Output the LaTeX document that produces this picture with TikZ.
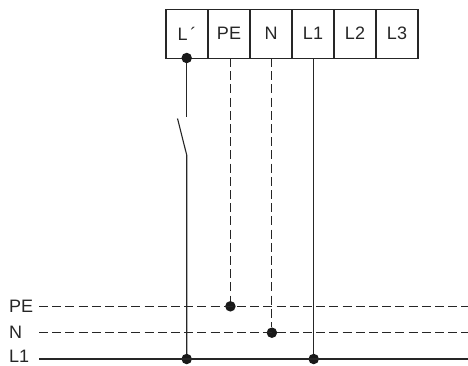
\documentclass[tikz,border=0pt]{standalone}
\usepackage{fontspec}
\setmainfont{Liberation Sans}
\usetikzlibrary{positioning}
\tikzset{
  terminal/.style={draw=black!85,line width=1.1pt,minimum width=42pt,minimum height=48.7pt,inner sep=0pt,outer sep=0pt,text=black!85,font=\fontsize{18}{18}\selectfont},
  busname/.style={anchor=west,inner sep=0pt,text=black!85,font=\fontsize{18}{18}\selectfont},
  wire/.style={black!85,line width=1.1pt},
  dashwire/.style={black!85,line width=1.1pt,dash pattern=on 9pt off 4.2pt},
  joint/.style={circle,fill=black!90,minimum size=10.5pt,inner sep=0pt,outer sep=0pt}
}
\begin{document}
\begin{tikzpicture}[x=1pt,y=-1pt]
  \useasboundingbox (0,0) rectangle (468,365);
  % terminal block
  \node[terminal] (tL) at (187,33.7) {L\,´};
  \node[terminal,right=0pt of tL] (tPE) {PE};
  \node[terminal,right=0pt of tPE] (tN) {N};
  \node[terminal,right=0pt of tN] (tLa) {L1};
  \node[terminal,right=0pt of tLa] (tLb) {L2};
  \node[terminal,right=0pt of tLb] (tLc) {L3};
  % bus names
  \node[busname] (nPE) at (9,306) {PE};
  \node[busname] (nN) at (9,332.5) {N};
  \node[busname] (nL) at (9,356.3) {L1};
  \coordinate (sPE) at (39,306.3);
  \coordinate (sN) at (39,332.7);
  \coordinate (sL) at (39,359);
  \coordinate (ePE) at (468,306.3);
  \coordinate (eN) at (468,332.7);
  \coordinate (eL) at (468,359);
  % joints
  \node[joint] (jTop) at (186.7,58) {};
  \node[joint] (jPE) at (230.4,306.3) {};
  \node[joint] (jN) at (271.9,332.7) {};
  \node[joint] (jL) at (186.7,359) {};
  \node[joint] (jLa) at (313.7,359) {};
  % switch
  \coordinate (swA) at (186.7,117);
  \coordinate (swB) at (177.5,118.5);
  \coordinate (swC) at (186.7,155);
  % buses
  \draw[dashwire] (sPE) -- (ePE);
  \draw[dashwire] (sN) -- (eN);
  \draw[wire] (sL) -- (eL);
  % risers
  \draw[wire] (jTop) -- (swA);
  \draw[wire] (swB) -- (swC) -- (jL);
  \draw[dashwire] (tPE.south -| jPE) -- (jPE);
  \draw[dashwire] (tN.south -| jN) -- (jN);
  \draw[wire] (tLa.south -| jLa) -- (jLa);
\end{tikzpicture}
\end{document}
